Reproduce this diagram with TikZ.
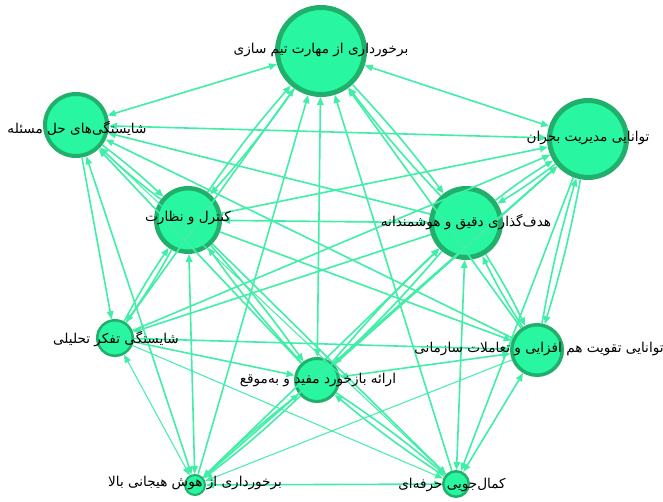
\documentclass[tikz,border=0pt]{standalone}
\usepackage{fontspec}
\usetikzlibrary{arrows.meta}
\TeXXeTstate=1
\newfontfamily\persian[Script=Arabic]{DejaVu Sans}
\definecolor{nodefill}{RGB}{40,246,160}
\definecolor{nodeborder}{RGB}{32,176,108}
\definecolor{edgecol}{RGB}{64,238,168}
\tikzset{
  >={Triangle[length=8pt,width=6.5pt]},
  nd/.style={circle, draw=nodeborder, fill=nodefill, inner sep=0pt},
  lbl/.style={font=\persian\fontsize{13.6}{15}\selectfont, text=black, inner sep=0pt},
  e/.style={draw=edgecol, line width=1.6pt, ->},
  eb/.style={e, <->},
  et/.style={e, line width=1pt},
}
\newcommand{\fa}[1]{\beginR #1\endR}
\begin{document}
\begin{tikzpicture}[x=1pt,y=-1pt]
\useasboundingbox (0,0) rectangle (663,502);
\fill[white] (0,0) rectangle (663,502);
% nodes
\node[nd, line width=5pt, outer sep=2.5pt, minimum size=87pt] (A) at (321,51) {};
\node[nd, line width=4pt, outer sep=2pt, minimum size=62pt] (B) at (76,125) {};
\node[nd, line width=5pt, outer sep=2.5pt, minimum size=77pt] (C) at (588,139) {};
\node[nd, line width=4.5pt, outer sep=2.25pt, minimum size=63.5pt] (D) at (188,220) {};
\node[nd, line width=5pt, outer sep=2.5pt, minimum size=69pt] (E) at (466,223) {};
\node[nd, line width=2.5pt, outer sep=1.25pt, minimum size=35.5pt] (F) at (115,338) {};
\node[nd, line width=3.5pt, outer sep=1.75pt, minimum size=50.5pt] (G) at (537,350) {};
\node[nd, line width=3pt, outer sep=1.5pt, minimum size=43pt] (H) at (317,380) {};
\node[nd, line width=2pt, outer sep=1pt, minimum size=20pt] (I) at (195,485) {};
\node[nd, line width=2.5pt, outer sep=1.25pt, minimum size=25.5pt] (J) at (456,484) {};
% edges
\draw[eb] (A) -- (B);
\draw[eb] (A) -- (C);
\draw[e] (A) to[bend left=3] (D); \draw[e] (D) to[bend left=3] (A);
\draw[e] (A) to[bend left=3] (E); \draw[e] (E) to[bend left=3] (A);
\draw[eb] (A) -- (H);
\draw[e] (I) -- (A);
\draw[e] (J) -- (A);
\draw[e] (F) -- (A);
\draw[e] (G) -- (A);
\draw[eb] (B) -- (C);
\draw[e] (B) to[bend left=3] (D); \draw[e] (D) to[bend left=3] (B);
\draw[e] (E) -- (B);
\draw[e] (B) -- (F);
\draw[e] (G) -- (B);
\draw[e] (H) -- (B);
\draw[eb] (B) -- (I);
\draw[et] (J) -- (B);
\draw[e] (D) -- (C);
\draw[e] (C) to[bend left=3] (E); \draw[e] (E) to[bend left=3] (C);
\draw[e] (F) -- (C);
\draw[e] (C) to[bend left=3] (G); \draw[e] (G) to[bend left=3] (C);
\draw[e] (H) -- (C);
\draw[e] (I) -- (C);
\draw[e] (C) -- (J);
\draw[eb] (D) -- (E);
\draw[e] (D) to[bend left=3] (F); \draw[e] (F) to[bend left=3] (D);
\draw[e] (D) -- (G);
\draw[e] (D) to[bend left=3] (H); \draw[e] (H) to[bend left=3] (D);
\draw[eb] (D) -- (I);
\draw[e] (D) -- (J);
\draw[e] (E) -- (F);
\draw[e] (E) to[bend left=3] (G); \draw[e] (G) to[bend left=3] (E);
\draw[e] (E) to[bend left=3] (H); \draw[e] (H) to[bend left=3] (E);
\draw[eb] (E) -- (I);
\draw[eb] (E) -- (J);
\draw[e] (F) -- (G);
\draw[e] (F) -- (H);
\draw[et, <->] (F) -- (I);
\draw[et] (F) -- (J);
\draw[eb] (G) -- (H);
\draw[et] (G) -- (I);
\draw[eb] (G) -- (J);
\draw[e] (H) to[bend left=3] (I); \draw[e] (I) to[bend left=3] (H);
\draw[e] (H) to[bend left=3] (J); \draw[e] (J) to[bend left=3] (H);
\draw[eb] (I) -- (J);
% labels
\node[lbl] (lA) at (321,50) {\fa{برخورداری از مهارت تیم سازی}};
\node[lbl] (lB) at (77,128) {\fa{شایستگی‌های حل مسئله}};
\node[lbl] (lC) at (588,138) {\fa{توانایی مدیریت بحران}};
\node[lbl] (lD) at (188,218) {\fa{کنترل و نظارت}};
\node[lbl] (lE) at (466,222) {\fa{هدف‌گذاری دقیق و هوشمندانه}};
\node[lbl] (lF) at (116,339) {\fa{شایستگی تفکر تحلیلی}};
\node[lbl] (lG) at (539,349) {\fa{توانایی تقویت هم افزایی و تعاملات سازمانی}};
\node[lbl] (lH) at (318,380) {\fa{ارائه بازخورد مفید و به‌موقع}};
\node[lbl] (lI) at (195,483) {\fa{برخورداری از هوش هیجانی بالا}};
\node[lbl] (lJ) at (452,485) {\fa{کمال‌جویی حرفه‌ای}};
\end{tikzpicture}
\end{document}
